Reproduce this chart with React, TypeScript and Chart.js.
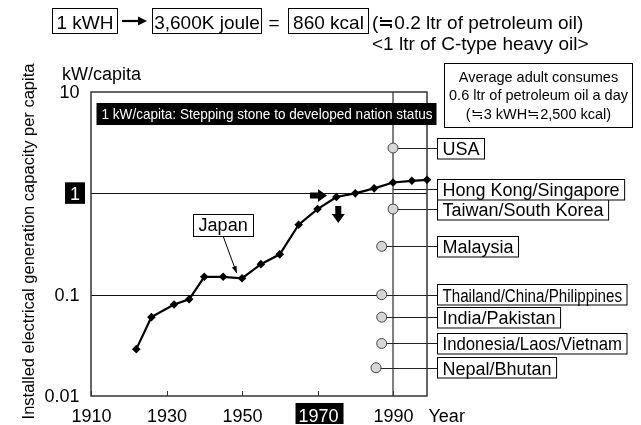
import { useEffect, useRef } from 'react';
import { Chart, registerables } from 'chart.js';

Chart.register(...registerables);

// ---- data ----
const japanYears = [1922, 1926, 1932, 1936, 1940, 1945, 1950, 1955, 1960, 1965, 1970, 1975, 1980, 1985, 1990, 1995, 1999];
const japanValues = [0.029, 0.06, 0.08, 0.09, 0.15, 0.15, 0.145, 0.2, 0.25, 0.49, 0.7, 0.92, 1.0, 1.12, 1.28, 1.33, 1.36];

const countryNames = ['USA', 'Taiwan/South Korea', 'Malaysia', 'Thailand/China/Philippines', 'India/Pakistan', 'Indonesia/Laos/Vietnam', 'Nepal/Bhutan'];
const countryYears = [1990, 1990, 1987, 1987, 1987, 1987, 1985.5];
const countryValues = [2.8, 0.7, 0.3, 0.1, 0.06, 0.033, 0.019];

const hkName = 'Hong Kong/Singapore';
const hkYear = 1990;
const hkValue = 1.1;

const xTickValues = [1910, 1930, 1950, 1970, 1990];
const xTickLabels = ['1910', '1930', '1950', '1970', '1990'];
const yTickValues = [10, 1, 0.1, 0.01];
const yTickLabels = ['10', '1', '0.1', '0.01'];
const gridValues = [1, 0.1];
const highlightYear = 1970;
const highlightValue = 1;
const refYear = 1990;

const headerBoxes = ['1 kWH', '3,600K joule', '860 kcal'];
const headerNote1 = '(≒0.2 ltr of petroleum oil)';
const headerNote2 = '<1 ltr of C-type heavy oil>';
const infoLines = ['Average adult consumes', '0.6 ltr of petroleum oil a day', '(≒3 kWH≒2,500 kcal)'];
const bannerText = '1 kW/capita: Stepping stone to developed nation status';
const japanLabel = 'Japan';
const yTitle = 'Installed electrical generation capacity per capita';
const yUnit = 'kW/capita';
const xUnit = 'Year';

const FONT = '"Liberation Sans", Arial, Helvetica, sans-serif';
const f = (s: number) => `${s}px ${FONT}`;

const drawPlugin = {
  id: 'decor',
  beforeDatasetsDraw(chart: any) {
    const ctx = chart.ctx as CanvasRenderingContext2D;
    const xs = chart.scales.x;
    const ys = chart.scales.y;
    const a = chart.chartArea;
    const labelX = a.right + 10;
    ctx.save();
    ctx.strokeStyle = '#111';
    ctx.lineWidth = 1;
    gridValues.forEach((v) => {
      const y = Math.round(ys.getPixelForValue(v)) + 0.5;
      ctx.beginPath();
      ctx.moveTo(a.left, y);
      ctx.lineTo(a.right, y);
      ctx.stroke();
    });
    ctx.strokeStyle = '#555';
    ctx.lineWidth = 1.5;
    const rx = xs.getPixelForValue(refYear);
    ctx.beginPath();
    ctx.moveTo(rx, a.top);
    ctx.lineTo(rx, a.bottom);
    ctx.stroke();
    ctx.strokeStyle = '#333';
    ctx.lineWidth = 1;
    xTickValues.forEach((v) => {
      const x = Math.round(xs.getPixelForValue(v)) + 0.5;
      ctx.beginPath();
      ctx.moveTo(x, a.bottom);
      ctx.lineTo(x, a.bottom - 5);
      ctx.stroke();
    });
    ctx.strokeStyle = '#222';
    ctx.lineWidth = 1;
    countryNames.forEach((_, i) => {
      const x = xs.getPixelForValue(countryYears[i]);
      const y = Math.round(ys.getPixelForValue(countryValues[i])) + 0.5;
      ctx.beginPath();
      ctx.moveTo(x, y);
      ctx.lineTo(labelX, y);
      ctx.stroke();
    });
    {
      const y = Math.round(ys.getPixelForValue(hkValue)) + 0.5;
      ctx.beginPath();
      ctx.moveTo(xs.getPixelForValue(hkYear), y);
      ctx.lineTo(labelX, y);
      ctx.stroke();
    }
    ctx.strokeStyle = '#333';
    ctx.lineWidth = 1.5;
    ctx.strokeRect(a.left, a.top, a.right - a.left, a.bottom - a.top);
    ctx.restore();
  },
  afterDatasetsDraw(chart: any) {
    const ctx = chart.ctx as CanvasRenderingContext2D;
    const xs = chart.scales.x;
    const ys = chart.scales.y;
    const a = chart.chartArea;
    const labelX = a.right + 10;
    ctx.save();
    ctx.fillStyle = '#000';
    ctx.strokeStyle = '#000';
    ctx.lineWidth = 1;

    const allNames = [...countryNames, hkName];
    const allValues = [...countryValues, hkValue];
    allNames.forEach((name, i) => {
      const cy = ys.getPixelForValue(allValues[i]);
      ctx.font = f(18);
      const w = Math.min(ctx.measureText(name).width, 179.5);
      const top = Math.round(cy - 10.5) + 0.5;
      ctx.fillStyle = '#fff';
      ctx.fillRect(labelX, top, w + 10, 20.5);
      ctx.strokeRect(labelX + 0.5, top, w + 10, 20.5);
      ctx.fillStyle = '#000';
      ctx.textAlign = 'left';
      ctx.textBaseline = 'alphabetic';
      ctx.fillText(name, labelX + 5.5, cy + 7, 179.5);
    });

    ctx.font = f(19);
    ctx.textBaseline = 'alphabetic';
    ctx.textAlign = 'center';
    const hb = [[52.5, 117.5], [152.5, 261.5], [288.5, 368.5]];
    headerBoxes.forEach((t, i) => {
      ctx.strokeRect(hb[i][0], 8.5, hb[i][1] - hb[i][0], 25);
      ctx.fillText(t, (hb[i][0] + hb[i][1]) / 2, 28.5);
    });
    ctx.fillText('=', 274, 28.5);
    ctx.lineWidth = 2.2;
    ctx.beginPath();
    ctx.moveTo(122, 21);
    ctx.lineTo(139, 21);
    ctx.stroke();
    ctx.beginPath();
    ctx.moveTo(147, 21);
    ctx.lineTo(138, 16.5);
    ctx.lineTo(138, 25.5);
    ctx.closePath();
    ctx.fill();
    ctx.lineWidth = 1;
    ctx.textAlign = 'left';
    ctx.fillText(headerNote1, 372, 28.5);
    ctx.fillText(headerNote2, 372, 50);

    ctx.strokeRect(444.5, 63.5, 188, 64);
    ctx.font = f(14.5);
    ctx.textAlign = 'center';
    const ib = [82, 100, 118.5];
    infoLines.forEach((t, i) => ctx.fillText(t, 538.5, ib[i]));

    ctx.fillStyle = '#000';
    ctx.fillRect(96.5, 103, 340, 22);
    ctx.fillStyle = '#fff';
    ctx.font = f(15);
    ctx.textAlign = 'left';
    ctx.fillText(bannerText, 101.5, 119, 331);

    ctx.fillStyle = '#000';
    const jx = xs.getPixelForValue(1945);
    const jy = ys.getPixelForValue(0.49);
    ctx.fillStyle = '#fff';
    ctx.fillRect(jx - 30, jy - 11, 60, 22);
    ctx.fillStyle = '#000';
    ctx.strokeRect(Math.round(jx - 30) + 0.5, Math.round(jy - 11) + 0.5, 60, 22);
    ctx.font = f(18);
    ctx.textAlign = 'center';
    ctx.fillText(japanLabel, jx, jy + 6.5);
    const ax0 = jx, ay0 = jy + 11.5;
    const ax1 = xs.getPixelForValue(1948.6), ay1 = ys.getPixelForValue(0.163);
    ctx.lineWidth = 1;
    ctx.beginPath();
    ctx.moveTo(ax0, ay0);
    ctx.lineTo(ax1, ay1);
    ctx.stroke();
    {
      const ang = Math.atan2(ay1 - ay0, ax1 - ax0);
      const L = 7, W = 2.5;
      ctx.beginPath();
      ctx.moveTo(ax1, ay1);
      ctx.lineTo(ax1 - L * Math.cos(ang) + W * Math.sin(ang), ay1 - L * Math.sin(ang) - W * Math.cos(ang));
      ctx.lineTo(ax1 - L * Math.cos(ang) - W * Math.sin(ang), ay1 - L * Math.sin(ang) + W * Math.cos(ang));
      ctx.closePath();
      ctx.fill();
    }

    {
      const tx = xs.getPixelForValue(1972.5), ty = ys.getPixelForValue(0.95);
      ctx.beginPath();
      ctx.moveTo(tx, ty);
      ctx.lineTo(tx - 9, ty - 6.5);
      ctx.lineTo(tx - 9, ty - 3);
      ctx.lineTo(tx - 17, ty - 3);
      ctx.lineTo(tx - 17, ty + 3);
      ctx.lineTo(tx - 9, ty + 3);
      ctx.lineTo(tx - 9, ty + 6.5);
      ctx.closePath();
      ctx.fill();
      const dx = xs.getPixelForValue(1975.5), dy = ys.getPixelForValue(0.51);
      ctx.beginPath();
      ctx.moveTo(dx, dy);
      ctx.lineTo(dx - 6.5, dy - 9);
      ctx.lineTo(dx - 3, dy - 9);
      ctx.lineTo(dx - 3, dy - 17);
      ctx.lineTo(dx + 3, dy - 17);
      ctx.lineTo(dx + 3, dy - 9);
      ctx.lineTo(dx + 6.5, dy - 9);
      ctx.closePath();
      ctx.fill();
    }

    ctx.font = f(18);
    ctx.textAlign = 'center';
    xTickValues.forEach((v, i) => {
      const x = xs.getPixelForValue(v);
      if (v === highlightYear) {
        ctx.fillStyle = '#000';
        ctx.fillRect(x - 22, 403, 48, 21);
        ctx.fillStyle = '#fff';
        ctx.fillText(xTickLabels[i], x + 1, 421.5);
        ctx.fillStyle = '#000';
      } else {
        ctx.fillText(xTickLabels[i], x + 0.5, 421.5);
      }
    });
    ctx.textAlign = 'left';
    ctx.fillText(xUnit, 428.5, 421.5);

    ctx.textAlign = 'right';
    yTickValues.forEach((v, i) => {
      const y = ys.getPixelForValue(v);
      if (v === highlightValue) {
        ctx.fillStyle = '#000';
        ctx.fillRect(65, y - 11, 20, 21.5);
        ctx.fillStyle = '#fff';
        ctx.textAlign = 'center';
        ctx.fillText(yTickLabels[i], 75, y + 6.5);
        ctx.textAlign = 'right';
        ctx.fillStyle = '#000';
      } else {
        ctx.fillText(yTickLabels[i], 79.5, y + 6);
      }
    });
    ctx.textAlign = 'left';
    ctx.fillText(yUnit, 62, 79.5);

    ctx.save();
    ctx.translate(33.5, 241.5);
    ctx.rotate(-Math.PI / 2);
    ctx.font = f(16.5);
    ctx.textAlign = 'center';
    ctx.textBaseline = 'alphabetic';
    ctx.fillText(yTitle, 0, 0);
    ctx.restore();

    ctx.restore();
  },
};

export default function App() {
  const ref = useRef<HTMLCanvasElement | null>(null);
  useEffect(() => {
    if (!ref.current) return;
    const chart = new Chart(ref.current, {
      type: 'line',
      data: {
        datasets: [
          {
            data: japanYears.map((x, i) => ({ x, y: japanValues[i] })),
            borderColor: '#000',
            borderWidth: 2.2,
            pointStyle: 'rectRot',
            pointRadius: 4.3,
            pointBackgroundColor: '#000',
            pointBorderColor: '#000',
            pointBorderWidth: 0,
            tension: 0,
            clip: false as any,
          },
          {
            data: countryYears.map((x, i) => ({ x, y: countryValues[i] })),
            showLine: false,
            pointStyle: 'circle',
            pointRadius: 5,
            pointBackgroundColor: '#d6d6d6',
            pointBorderColor: '#444',
            pointBorderWidth: 1,
            clip: false as any,
          },
        ],
      },
      options: {
        responsive: false,
        animation: false,
        devicePixelRatio: 1,
        events: [],
        layout: { padding: { left: 91, top: 92, right: 214, bottom: 29 } },
        scales: {
          x: { type: 'linear', min: 1910, max: 1999, display: false },
          y: { type: 'logarithmic', min: 0.01, max: 10, display: false },
        },
        plugins: { legend: { display: false }, tooltip: { enabled: false } },
      },
      plugins: [drawPlugin],
    });
    return () => chart.destroy();
  }, []);
  return (
    <div style={{ position: 'fixed', left: 0, top: 0, width: 641, height: 425, background: '#fff' }}>
      <canvas ref={ref} width={641} height={425} style={{ display: 'block' }} />
    </div>
  );
}
